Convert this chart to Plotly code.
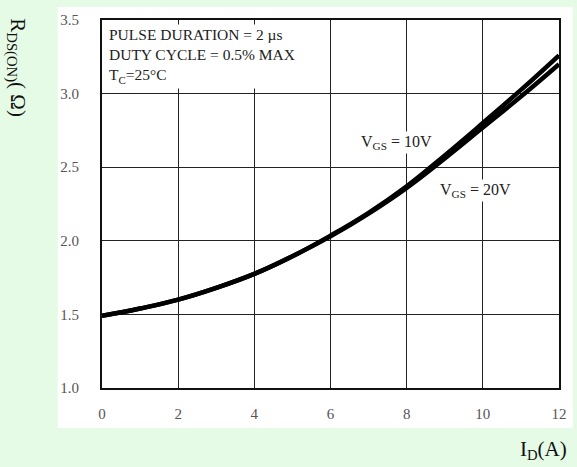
import plotly.graph_objects as go

# Data
id_amps = [0, 1, 2, 3, 4, 5, 6, 7, 8, 9, 10, 11, 12]
rds_vgs10 = [1.49, 1.54, 1.60, 1.68, 1.775, 1.895, 2.035, 2.19, 2.37, 2.58, 2.80, 3.025, 3.26]
rds_vgs20 = [1.49, 1.54, 1.60, 1.68, 1.775, 1.895, 2.03, 2.185, 2.36, 2.56, 2.77, 2.98, 3.20]
x_ticks = [0, 2, 4, 6, 8, 10, 12]
y_ticks = [1.0, 1.5, 2.0, 2.5, 3.0, 3.5]
y_tick_labels = ["1.0", "1.5", "2.0", "2.5", "3.0", "3.5"]

SERIF = "Liberation Serif"
GREEN = "#E6FBE6"

fig = go.Figure()
fig.add_trace(go.Scatter(x=id_amps, y=rds_vgs10, mode="lines", name="VGS = 10V",
                         line=dict(color="black", width=4.5, shape="spline", smoothing=1.2)))
fig.add_trace(go.Scatter(x=id_amps, y=rds_vgs20, mode="lines", name="VGS = 20V",
                         line=dict(color="black", width=4.5, shape="spline", smoothing=1.2)))

fig.update_layout(
    width=577, height=467,
    margin=dict(l=102, r=10, t=20, b=79),
    paper_bgcolor=GREEN,
    plot_bgcolor="white",
    showlegend=False,
    font=dict(family=SERIF, color="#444"),
)

fig.update_xaxes(
    range=[0, 12], tickvals=x_ticks, ticktext=[str(v) for v in x_ticks],
    showgrid=True, gridcolor="#222", gridwidth=1.3,
    showline=True, linecolor="#111", linewidth=2, mirror=True,
    zeroline=False, ticks="", ticklabelstandoff=11,
    tickfont=dict(family=SERIF, size=15, color="#555"),
)
fig.update_yaxes(
    range=[1.0, 3.5], tickvals=y_ticks, ticktext=y_tick_labels,
    showgrid=True, gridcolor="#222", gridwidth=1.3,
    showline=True, linecolor="#111", linewidth=2, mirror=True,
    zeroline=False, ticks="", ticklabelstandoff=18,
    tickfont=dict(family=SERIF, size=15, color="#555"),
)

# White panel behind the chart
fig.add_shape(type="rect", xref="paper", yref="paper",
              x0=-0.0968, x1=1.03, y0=-0.1087, y1=1.0353,
              fillcolor="white", line=dict(width=0), layer="below")

# White box behind the condition text (covers gridlines)
fig.add_shape(type="rect", xref="x", yref="y",
              x0=0.05, x1=5.4, y0=3.035, y1=3.47,
              fillcolor="white", line=dict(width=0), layer="between")

fig.add_annotation(
    xref="paper", yref="paper", x=0.012, y=0.99, xanchor="left", yanchor="top",
    text="PULSE DURATION = 2 µs<br>DUTY CYCLE = 0.5% MAX<br>T<sub>C</sub>=25°C",
    showarrow=False, align="left",
    font=dict(family=SERIF, size=15.5, color="#222"),
)

fig.add_annotation(
    xref="x", yref="y", x=7.73, y=2.665,
    text="V<sub>GS</sub> = 10V", showarrow=False, bgcolor="white", borderpad=1,
    font=dict(family=SERIF, size=16, color="#222"),
)
fig.add_annotation(
    xref="x", yref="y", x=9.8, y=2.345,
    text="V<sub>GS</sub> = 20V", showarrow=False, bgcolor="white", borderpad=1,
    font=dict(family=SERIF, size=16, color="#222"),
)

# Axis titles
fig.add_annotation(
    xref="paper", yref="paper", x=-0.187, y=0.87,
    text="R<sub>DS(ON)</sub>( Ω)", textangle=90, showarrow=False,
    xanchor="center", yanchor="middle",
    font=dict(family=SERIF, size=21, color="#111"),
)
fig.add_annotation(
    xref="paper", yref="paper", x=1.022, y=-0.168, xanchor="right", yanchor="middle",
    text="I<sub>D</sub>(A)", showarrow=False,
    font=dict(family=SERIF, size=21, color="#111"),
)

fig.write_html("out.html")
